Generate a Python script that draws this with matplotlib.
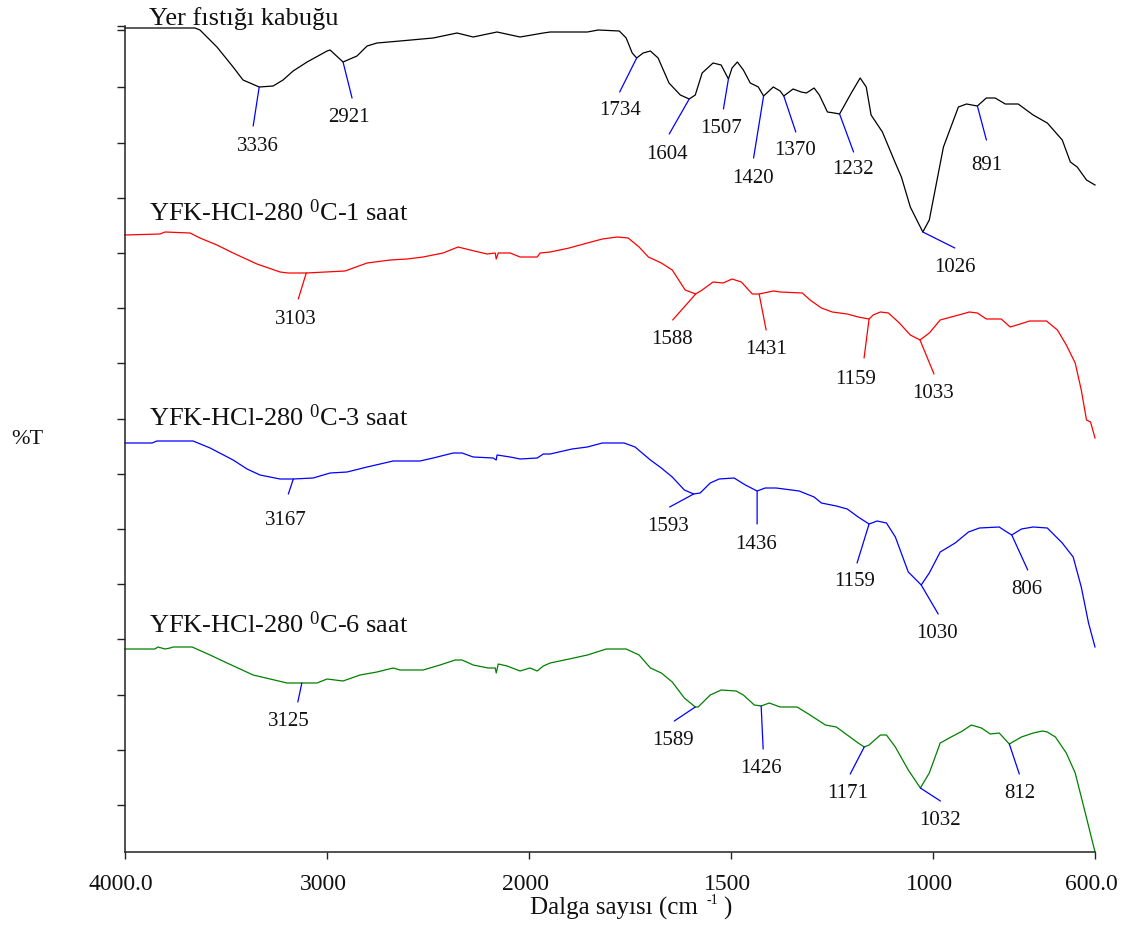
import numpy as np
import matplotlib
matplotlib.use('Agg')
import matplotlib.pyplot as plt
from matplotlib.transforms import ScaledTranslation

plt.rcParams['font.family'] = ['Liberation Serif', 'DejaVu Serif']
plt.rcParams['mathtext.fontset'] = 'custom'
plt.rcParams['mathtext.rm'] = 'Liberation Serif'
plt.rcParams['mathtext.it'] = 'Liberation Serif:italic'

# ---------------- data ----------------
names = ['Yer fıstığı kabuğu',
         r'YFK-HCl-280 $^{\mathrm{0}}$C-1 saat',
         r'YFK-HCl-280 $^{\mathrm{0}}$C-3 saat',
         r'YFK-HCl-280 $^{\mathrm{0}}$C-6 saat']

black_wn = [4000, 3654, 3629, 3545, 3465, 3416, 3336, 3267, 3218, 3168, 3099, 3000, 2985, 2921, 2852, 2802,
            2753, 2639, 2475, 2357, 2277, 2159, 2045, 1965, 1948, 1856, 1829, 1777, 1760, 1745, 1734, 1718,
            1700, 1681, 1654, 1626, 1604, 1589, 1572, 1545, 1525, 1507, 1498, 1485, 1470, 1453, 1433, 1420,
            1396, 1379, 1370, 1347, 1327, 1314, 1295, 1282, 1262, 1245, 1232, 1203, 1181, 1166, 1154, 1126,
            1094, 1079, 1057, 1026, 1010, 975, 938, 918, 891, 869, 847, 822, 790, 753, 718, 681, 661, 644,
            621, 600]
black_t = [82.4, 82.4, 82.2, 80.5, 78.5, 77.2, 76.5, 76.6, 77.2, 78.1, 79.0, 80.1, 80.2, 79.0, 79.6, 80.6,
           80.9, 81.1, 81.4, 81.9, 81.5, 82.0, 81.5, 81.9, 82.0, 82.0, 82.2, 82.1, 81.4, 79.9, 79.4, 79.9,
           80.1, 79.4, 76.9, 75.7, 75.3, 75.7, 77.9, 78.9, 78.7, 77.3, 78.4, 79.0, 78.2, 76.9, 76.5, 75.6,
           76.5, 76.1, 75.6, 76.3, 76.0, 75.9, 76.4, 75.7, 74.0, 73.9, 73.8, 75.9, 77.4, 76.5, 73.7, 72.0,
           68.9, 67.5, 64.5, 62.0, 63.2, 70.5, 74.5, 74.8, 74.6, 75.4, 75.4, 74.8, 74.8, 73.7, 72.9, 71.2,
           69.0, 68.5, 67.2, 66.7]

red_wn = [4000, 3827, 3802, 3678, 3629, 3545, 3465, 3347, 3233, 3193, 3103, 2911, 2802, 2688, 2604, 2525,
          2426, 2352, 2292, 2208, 2168, 2163, 2153, 2094, 2045, 1980, 1973, 1948, 1901, 1856, 1819, 1782,
          1755, 1728, 1705, 1673, 1646, 1614, 1588, 1572, 1545, 1520, 1498, 1475, 1448, 1431, 1396, 1379,
          1324, 1305, 1277, 1250, 1213, 1186, 1159, 1149, 1131, 1111, 1084, 1057, 1033, 1010, 983, 956,
          928, 911, 891, 869, 832, 810, 785, 762, 720, 693, 671, 649, 634, 621, 611, 600]
red_t = [61.7, 61.8, 62.0, 61.9, 61.4, 60.7, 59.9, 58.8, 58.0, 57.9, 57.9, 58.1, 58.9, 59.2, 59.3, 59.5,
         59.9, 60.5, 60.2, 59.8, 59.9, 59.3, 59.9, 59.9, 59.5, 59.5, 59.9, 60.0, 60.4, 60.9, 61.3, 61.5,
         61.4, 60.5, 59.5, 58.9, 58.2, 56.2, 55.8, 56.2, 57.0, 56.9, 57.3, 57.0, 55.8, 55.8, 56.1, 56.0,
         55.9, 55.2, 54.4, 54.0, 53.8, 53.5, 53.3, 53.7, 54.0, 53.9, 52.9, 51.7, 51.2, 51.9, 53.2, 53.5,
         53.8, 54.0, 53.9, 53.3, 53.3, 52.5, 52.8, 53.1, 53.1, 52.2, 50.7, 48.9, 46.2, 43.2, 43.0, 41.4]

blue_wn = [4000, 3866, 3842, 3663, 3579, 3465, 3396, 3332, 3233, 3167, 3069, 2985, 2901, 2802, 2673, 2540,
           2475, 2376, 2332, 2277, 2178, 2163, 2159, 2094, 2045, 1980, 1965, 1948, 1894, 1856, 1819, 1765,
           1738, 1700, 1673, 1646, 1616, 1593, 1577, 1552, 1530, 1493, 1465, 1436, 1416, 1389, 1332, 1295,
           1277, 1240, 1213, 1186, 1159, 1139, 1116, 1094, 1062, 1047, 1030, 1010, 983, 946, 913, 886,
           837, 822, 806, 782, 753, 718, 681, 654, 634, 616, 600]
blue_t = [40.9, 40.9, 41.1, 41.1, 40.4, 39.2, 38.3, 37.7, 37.3, 37.3, 37.4, 37.9, 38.0, 38.5, 39.1, 39.1,
          39.4, 39.9, 39.9, 39.5, 39.4, 39.2, 39.7, 39.5, 39.3, 39.4, 39.8, 39.8, 40.3, 40.5, 40.9, 40.9,
          40.5, 39.2, 38.4, 37.5, 36.2, 35.8, 35.9, 36.9, 37.3, 37.4, 36.7, 36.1, 36.4, 36.4, 36.1, 35.5,
          34.9, 34.6, 34.3, 33.5, 32.8, 33.1, 32.9, 31.5, 28.0, 27.4, 26.7, 27.9, 30.0, 30.9, 32.0, 32.4,
          32.5, 32.1, 31.7, 32.3, 32.5, 32.4, 30.9, 29.5, 26.5, 22.9, 20.5]

green_wn = [4000, 3852, 3837, 3802, 3777, 3762, 3668, 3579, 3495, 3366, 3282, 3198, 3125, 3050, 3000, 2921,
            2837, 2753, 2673, 2639, 2525, 2441, 2366, 2332, 2277, 2203, 2168, 2163, 2153, 2109, 2045, 1998,
            1980, 1965, 1948, 1901, 1856, 1809, 1760, 1728, 1700, 1673, 1646, 1616, 1589, 1582, 1552, 1525,
            1488, 1470, 1443, 1426, 1406, 1379, 1337, 1305, 1267, 1240, 1213, 1186, 1171, 1159, 1131, 1116,
            1094, 1062, 1032, 1010, 983, 956, 928, 906, 881, 859, 837, 812, 782, 753, 730, 718, 698, 671,
            649, 624, 600]
green_t = [20.3, 20.3, 20.5, 20.3, 20.4, 20.5, 20.5, 19.7, 18.9, 17.7, 17.3, 16.9, 16.9, 16.9, 17.3, 17.1,
           17.7, 18.0, 18.4, 18.2, 18.2, 18.7, 19.2, 19.2, 18.7, 18.4, 18.4, 17.9, 18.8, 18.6, 18.1, 18.4,
           18.1, 18.6, 18.9, 19.3, 19.7, 20.3, 20.3, 19.7, 18.4, 17.9, 17.0, 15.4, 14.5, 14.5, 15.7, 16.2,
           16.1, 15.7, 14.7, 14.6, 14.9, 14.5, 14.5, 13.7, 12.7, 12.5, 11.7, 10.9, 10.5, 10.7, 11.7, 11.7,
           10.5, 8.2, 6.4, 7.9, 10.9, 11.5, 12.1, 12.7, 12.4, 11.8, 11.9, 10.8, 11.5, 11.9, 12.1, 12.0,
           11.5, 9.9, 7.9, 3.9, 0.0]

black_peaks = [3336, 2921, 1734, 1604, 1507, 1420, 1370, 1232, 1026, 891]
red_peaks = [3103, 1588, 1431, 1159, 1033]
blue_peaks = [3167, 1593, 1436, 1159, 1030, 806]
green_peaks = [3125, 1589, 1426, 1171, 1032, 812]

xtick_vals = [4000, 3000, 2000, 1500, 1000, 600]
xtick_labels = ['4000.0', '3000', '2000', '1500', '1000', '600.0']

# ---------------- layout / style ----------------
# leader-line end and label centre offsets (pixels: dx right, dy down)
black_lead = [(-6, 39), (9, 36), (-17, 34), (-20, 35), (-5, 30), (-10, 62), (12, 36), (14, 38), (32, 16), (9, 34)]
black_txt = [(-1, 57), (6, 53), (-17, 50), (-22, 53), (-7, 47), (-11, 80), (11, 52), (13, 53), (32, 33), (9, 57)]
red_lead = [(-8, 26), (-23, 26), (7, 36), (-5, 39), (14, 34)]
red_txt = [(-10, 44), (-24, 43), (7, 53), (-13, 58), (13, 51)]
blue_lead = [(-5, 15), (-24, 13), (0, 33), (-12, 39), (17, 29), (16, 35)]
blue_txt = [(-8, 39), (-26, 30), (-1, 51), (-14, 55), (16, 46), (15, 52)]
green_lead = [(-4, 19), (-21, 14), (2, 43), (-14, 27), (20, 13), (10, 30)]
green_txt = [(-13, 36), (-22, 31), (0, 60), (-17, 44), (20, 30), (10, 47)]

W, H = 1132, 933


def fwd(w):
    w = np.asarray(w, dtype=float)
    return np.where(w > 2000, 2000 + (w - 2000) / 2.0, w)


def inv(p):
    p = np.asarray(p, dtype=float)
    return np.where(p > 2000, 2000 + (p - 2000) * 2.0, p)


fig = plt.figure(figsize=(W / 100, H / 100), dpi=100)
ax = fig.add_axes([125 / W, (H - 852) / H, (1095 - 125) / W, (852 - 26) / H])
ax.set_xscale('function', functions=(fwd, inv))
ax.set_xlim(4000, 600)
ax.set_ylim(0, 82.6)

series = [
    (black_wn, black_t, '#000000', black_peaks, black_lead, black_txt, '#0000ff'),
    (red_wn, red_t, '#ff0000', red_peaks, red_lead, red_txt, '#ff0000'),
    (blue_wn, blue_t, '#0000ff', blue_peaks, blue_lead, blue_txt, '#0000ff'),
    (green_wn, green_t, '#008000', green_peaks, green_lead, green_txt, '#0000ff'),
]

for wn, t, col, peaks, lead, txt, lcol in series:
    ax.plot(wn, t, color=col, lw=0.9, clip_on=False)
    wn_a = np.array(wn, dtype=float)[::-1]
    t_a = np.array(t, dtype=float)[::-1]
    for pk, (lx, ly), (tx, ty) in zip(peaks, lead, txt):
        tv = float(np.interp(pk, wn_a, t_a))
        ax.annotate('', xy=(pk, tv), xytext=(lx, -ly), textcoords='offset pixels',
                    arrowprops=dict(arrowstyle='-', color=lcol, lw=0.9, shrinkA=0, shrinkB=0))
        ax.annotate(str(pk), xy=(pk, tv), xytext=(tx, -(ty + 7)), textcoords='offset pixels',
                    ha='center', va='baseline', fontsize=15, color='#111111')

# spines
for s in ['top', 'right']:
    ax.spines[s].set_visible(False)
for s in ['left', 'bottom']:
    ax.spines[s].set_color('#222222')
    ax.spines[s].set_linewidth(1.1)

ax.set_xticks(xtick_vals)
ax.set_xticklabels(xtick_labels)
ax.xaxis.set_minor_locator(matplotlib.ticker.NullLocator())
ax.tick_params(axis='x', direction='out', length=5, width=1.0, pad=11, labelsize=17, colors='#222222',
               labelcolor='#111111')
shift = ScaledTranslation(-4 / 100, 0, fig.dpi_scale_trans)
for lab in ax.get_xticklabels():
    lab.set_transform(lab.get_transform() + shift)

yt = list(76.45 - 5.52 * np.arange(14)) + [82.2, 82.6]
ax.set_yticks(yt)
ax.yaxis.set_minor_locator(matplotlib.ticker.NullLocator())
ax.tick_params(axis='y', direction='out', length=5.5, width=1.0, labelleft=False, colors='#222222')

# sample titles
title_base = [25, 221, 426, 633]
for nm, yb in zip(names, title_base):
    fig.text(149 / W, 1 - yb / H, nm, ha='left', va='baseline', fontsize=19, color='#111111')

# axis labels
fig.text(529.5 / W, 1 - 915 / H, 'Dalga sayısı (cm', ha='left', va='baseline', fontsize=18, color='#111111')
fig.text(723 / W, 1 - 915 / H, ')', ha='left', va='baseline', fontsize=18, color='#111111')
fig.text(712 / W, 1 - 900 / H, '-1', ha='center', va='center', fontsize=10, color='#111111')
fig.text(27 / W, 1 - 440 / H, '%T', ha='center', va='center', fontsize=16, color='#111111')

fig.savefig('out.png', dpi=100)
